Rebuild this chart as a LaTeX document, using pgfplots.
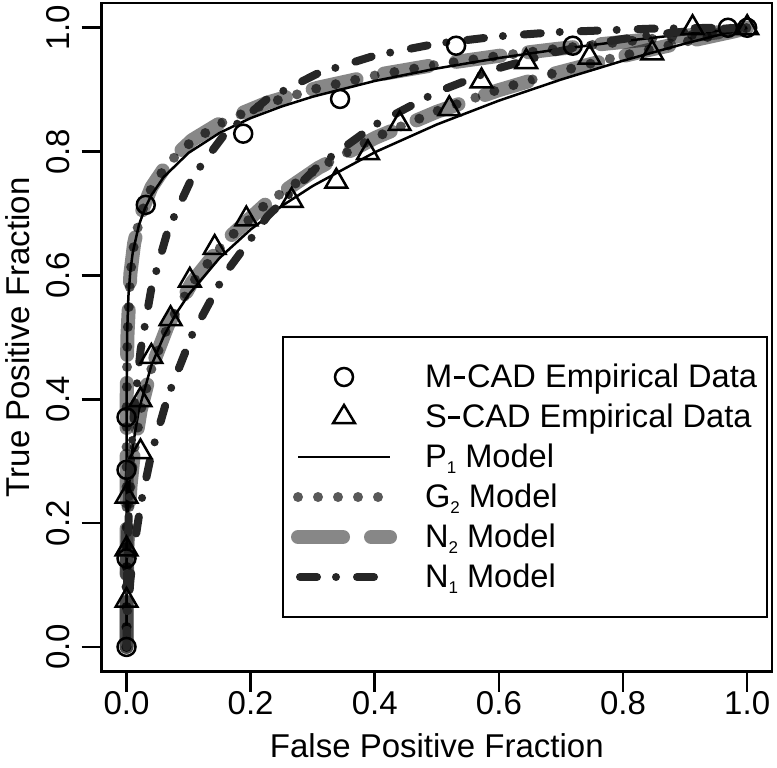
\documentclass[border=0pt]{standalone}
\usepackage{fontspec}
\setmainfont{Liberation Sans}
\usepackage{pgfplots}
\pgfplotsset{compat=1.18}
\newcommand{\sub}[1]{\raisebox{-5.5bp}{\fontsize{17bp}{17bp}\selectfont #1}}
\newcommand{\mdash}{\kern1.5bp\rule[8.8bp]{11.5bp}{2.4bp}\kern2bp}
\begin{document}
\begin{tikzpicture}
\begin{axis}[
  at={(0,0)}, anchor=south west,
  scale only axis, width=670.3bp, height=668.7bp,
  xmin=-0.04, xmax=1.04, ymin=-0.04, ymax=1.04,
  axis line style={line width=2.6bp},
  tick align=outside, major tick length=20bp,
  every tick/.style={black, line width=2.6bp},
  xtick pos=left, ytick pos=left,
  xtick={0,0.2,0.4,0.6,0.8,1}, ytick={0,0.2,0.4,0.6,0.8,1},
  xticklabels={0.0,0.2,0.4,0.6,0.8,1.0},
  yticklabels={0.0,0.2,0.4,0.6,0.8,1.0},
  tick label style={font=\fontsize{33bp}{40bp}\selectfont},
  xticklabel style={anchor=north, inner sep=0pt},
  yticklabel style={rotate=90, anchor=south, inner sep=0pt, yshift=12bp},
  xlabel={False Positive Fraction}, ylabel={True Positive Fraction},
  label style={font=\fontsize{33bp}{40bp}\selectfont},
  xlabel style={at={(axis description cs:0.5,0)}, anchor=north, inner sep=0pt, yshift=-61.3bp},
  ylabel style={at={(axis description cs:0,0.5)}, anchor=south, inner sep=0pt, yshift=71.7bp},
  legend style={at={(0.269,0.502)}, anchor=north west, draw=black, line width=2bp, fill=white,
    inner xsep=8bp, inner ysep=21.5bp, column sep=28bp, row sep=3bp,
    font=\fontsize{32.6bp}{40bp}\selectfont,
    nodes={inner sep=0pt, text height=29bp, text depth=8bp}, cells={anchor=west}},
  legend cell align=left,
]
% legend images
\addlegendimage{legend image code/.code={\path[draw=none] (0bp,0bp) -- (92bp,0bp); \draw[black, line width=2.5bp] (46bp,0bp) circle[radius=9bp];}}
\addlegendentry{M\mdash CAD Empirical Data\hspace*{2bp}}
\addlegendimage{legend image code/.code={\path[draw=none] (0bp,0bp) -- (92bp,0bp); \draw[black, line width=2.5bp] (46bp,12bp) -- (56.83bp,-6bp) -- (35.17bp,-6bp) -- cycle;}}
\addlegendentry{S\mdash CAD Empirical Data}
\addlegendimage{legend image code/.code={\draw[black, line width=2.5bp] (0bp,0bp) -- (92bp,0bp);}}
\addlegendentry{P\sub{1} Model}
\addlegendimage{legend image code/.code={\draw[black, opacity=0.65, line width=10bp, line cap=round, dash pattern=on 0bp off 20bp] (0bp,0bp) -- (92bp,0bp);}}
\addlegendentry{G\sub{2} Model}
\addlegendimage{legend image code/.code={\draw[black, opacity=0.47, line width=14bp, line cap=round, dash pattern=on 45bp off 28bp] (0bp,0bp) -- (92bp,0bp);}}
\addlegendentry{N\sub{2} Model}
\addlegendimage{legend image code/.code={\draw[black!85, line width=8bp, line cap=round, dash pattern=on 17bp off 19bp on 0bp off 21bp] (2bp,0bp) -- (92bp,0bp);}}
\addlegendentry{N\sub{1} Model}

% M-CAD empirical data
\addplot[forget plot, only marks, mark=o, mark size=9bp, mark options={black, line width=2.5bp}] coordinates {
(0,0) (0,0.143) (0,0.286) (0,0.371) (0.031,0.714) (0.188,0.829) (0.344,0.885)
(0.531,0.971) (0.719,0.971) (0.969,1.0) (1,1)};
% S-CAD empirical data
\addplot[forget plot, only marks, mark=triangle, mark size=12.5bp, mark options={black, line width=2.5bp}] coordinates {
(0,0.075) (0,0.158) (0,0.243) (0.0225,0.315) (0.0225,0.399) (0.040,0.469) (0.071,0.530)
(0.102,0.592) (0.142,0.645) (0.193,0.691) (0.266,0.721) (0.338,0.752) (0.389,0.798)
(0.44,0.845) (0.52,0.869) (0.572,0.914) (0.644,0.945) (0.746,0.952) (0.847,0.959)
(0.912,1.0) (1,1)};

% N2 model (upper, M-CAD)
\addplot[forget plot, black, opacity=0.47, line width=14bp, line cap=round, line join=round, dash pattern=on 45bp off 28bp] coordinates {
(0,0) (0.0000000000013,0.0188) (0.000000001,0.0594) (0.00000029,0.1492) (0.0000034,0.2177)
(0.0000317,0.3015) (0.000233,0.3974) (0.00135,0.5) (0.00621,0.6026) (0.01222,0.6517)
(0.02275,0.6985) (0.04006,0.7422) (0.06681,0.7823) (0.10565,0.8186) (0.15866,0.8508)
(0.22663,0.8790) (0.30854,0.9032) (0.40129,0.9236) (0.5,0.9406) (0.59871,0.9545)
(0.69146,0.9656) (0.77337,0.9744) (0.84134,0.9812) (0.93319,0.9904) (0.97725,0.9953)
(0.99379,0.9979) (1,1)};
% N2 model (lower, S-CAD)
\addplot[forget plot, black, opacity=0.47, line width=14bp, line cap=round, line join=round, dash pattern=on 45bp off 28bp] coordinates {
(0,0) (0.000000001,0.0010) (0.00000029,0.0082) (0.0000034,0.0202) (0.0000317,0.0446)
(0.000233,0.0885) (0.00135,0.1587) (0.00621,0.2579) (0.01222,0.3174) (0.02275,0.3821)
(0.04006,0.4503) (0.06681,0.5199) (0.10565,0.5890) (0.15866,0.6554) (0.22663,0.7174)
(0.30854,0.7734) (0.40129,0.8225) (0.5,0.8643) (0.59871,0.8989) (0.69146,0.9265)
(0.77337,0.9479) (0.84134,0.9641) (0.93319,0.9842) (0.97725,0.9938) (0.99379,0.9978) (1,1)};

% G2 model (upper)
\addplot[forget plot, black, opacity=0.65, line width=10bp, line cap=round, dash pattern=on 0bp off 20bp] coordinates {
(0,0) (0.0000000000013,0.0190) (0.000000001,0.0600) (0.00000029,0.1500) (0.0000034,0.2190)
(0.0000317,0.3030) (0.000233,0.3990) (0.00135,0.5010) (0.00621,0.6030) (0.01222,0.6520)
(0.02275,0.6980) (0.04006,0.7410) (0.06681,0.7810) (0.10565,0.8170) (0.15866,0.8495)
(0.22663,0.8780) (0.30854,0.9025) (0.40129,0.9232) (0.5,0.9404) (0.59871,0.9545)
(0.69146,0.9658) (0.77337,0.9747) (0.84134,0.9816) (0.93319,0.9907) (0.97725,0.9955)
(0.99379,0.9980) (1,1)};
% G2 model (lower)
\addplot[forget plot, black, opacity=0.65, line width=10bp, line cap=round, dash pattern=on 0bp off 20bp] coordinates {
(0,0) (0.000000001,0.0012) (0.00000029,0.0090) (0.0000034,0.0215) (0.0000317,0.0465)
(0.000233,0.0905) (0.00135,0.1600) (0.00621,0.2585) (0.01222,0.3175) (0.02275,0.3815)
(0.04006,0.4490) (0.06681,0.5185) (0.10565,0.5875) (0.15866,0.6545) (0.22663,0.7170)
(0.30854,0.7735) (0.40129,0.8232) (0.5,0.8653) (0.59871,0.9000) (0.69146,0.9275)
(0.77337,0.9487) (0.84134,0.9646) (0.93319,0.9845) (0.97725,0.9939) (0.99379,0.9979) (1,1)};

% P1 model (upper)
\addplot[forget plot, black, line width=2.5bp, line join=round] coordinates {
(0,0) (1e-12,0.0667) (1e-9,0.1312) (1e-6,0.2582) (0.0001,0.4055) (0.001,0.5081)
(0.003,0.5659) (0.006,0.6057) (0.01,0.6368) (0.02,0.6815) (0.03,0.7092) (0.04,0.7294)
(0.06,0.7590) (0.1,0.7980) (0.15,0.8303) (0.2,0.8541) (0.25,0.8729) (0.3,0.8887)
(0.4,0.9141) (0.5,0.9343) (0.6,0.9512) (0.7,0.9657) (0.8,0.9784) (0.9,0.9897) (1,1)};
% P1 model (lower)
\addplot[forget plot, black, line width=2.5bp, line join=round] coordinates {
(0,0) (1e-9,0.0062) (1e-6,0.0339) (0.00001,0.0596) (0.0001,0.1047) (0.0003,0.1371)
(0.001,0.1841) (0.003,0.2410) (0.006,0.2855) (0.01,0.3236) (0.02,0.3835) (0.04,0.4545)
(0.06,0.5019) (0.08,0.5386) (0.1,0.5689) (0.15,0.6283) (0.2,0.6742) (0.25,0.7120)
(0.3,0.7445) (0.4,0.7989) (0.5,0.8438) (0.6,0.8823) (0.7,0.9163) (0.8,0.9468)
(0.9,0.9745) (1,1)};

% N1 model (upper)
\addplot[forget plot, black!85, line width=8bp, line cap=round, line join=round, dash pattern=on 17bp off 19bp on 0bp off 21bp] coordinates {
(0,0) (0.0000317,0.0202) (0.000233,0.0606) (0.00135,0.1469) (0.00621,0.2912)
(0.01222,0.3821) (0.02275,0.4801) (0.04006,0.5793) (0.06681,0.6736) (0.10565,0.7580)
(0.15866,0.8289) (0.22663,0.8849) (0.30854,0.9265) (0.40129,0.9554) (0.5,0.9744)
(0.59871,0.9861) (0.69146,0.9929) (0.84134,0.9984) (0.93319,0.9997) (0.97725,1.0) (1,1)};
% N1 model (lower)
\addplot[forget plot, black!85, line width=8bp, line cap=round, line join=round, dash pattern=on 17bp off 19bp on 0bp off 21bp] coordinates {
(0,0) (0.0000317,0.0031) (0.000233,0.0126) (0.00135,0.0409) (0.00621,0.1075)
(0.01222,0.1611) (0.02275,0.2297) (0.04006,0.3121) (0.06681,0.4052) (0.10565,0.5040)
(0.15866,0.6026) (0.22663,0.6950) (0.30854,0.7764) (0.40129,0.8438) (0.5,0.8962)
(0.59871,0.9345) (0.69146,0.9608) (0.77337,0.9778) (0.84134,0.9881) (0.93319,0.9971)
(0.97725,0.9994) (1,1)};
\end{axis}
\pgfresetboundingbox
\path (-101.7bp,-96.3bp) rectangle (675.3bp,671.7bp);
\end{tikzpicture}
\end{document}
